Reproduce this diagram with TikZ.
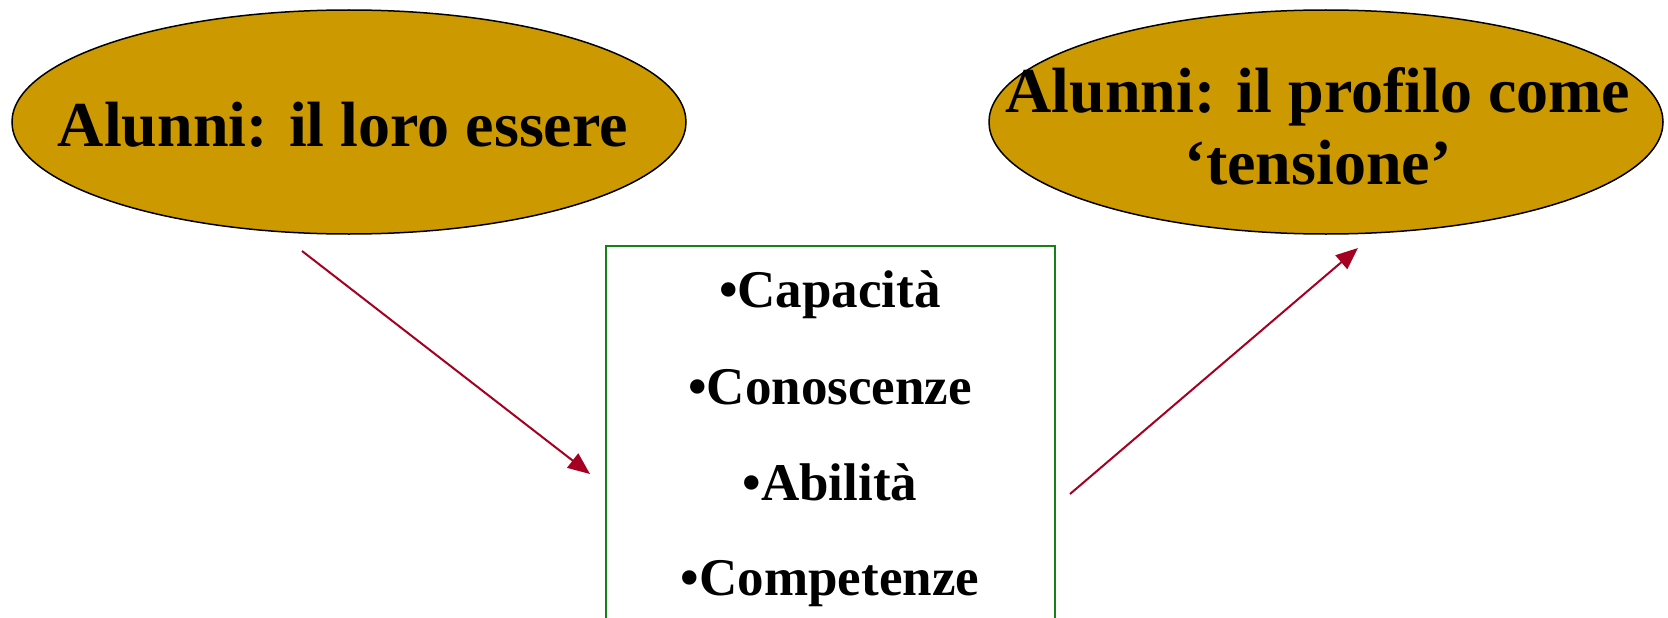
\documentclass[tikz,border=0pt]{standalone}
\usepackage{fontspec}
\setmainfont{Liberation Serif}
\usetikzlibrary{shapes.geometric,arrows.meta}
\definecolor{gold}{RGB}{204,153,0}
\definecolor{arrowred}{RGB}{165,0,33}
\definecolor{boxgreen}{RGB}{20,130,20}
\tikzset{
  bubble/.style={ellipse,draw=black,line width=1.5pt,fill=gold,minimum width=674pt,minimum height=224pt,inner sep=0pt},
  bigtext/.style={anchor=base,inner sep=0pt,font=\fontsize{64}{72}\selectfont\bfseries},
  itemtext/.style={anchor=base,inner sep=0pt,font=\fontsize{53}{60}\selectfont\bfseries},
  itembox/.style={draw=boxgreen,line width=2pt,minimum width=449pt,minimum height=420pt,anchor=north,inner sep=0pt},
  link/.style={draw=arrowred,line width=2pt,-{Triangle[length=22pt,width=18pt]}}
}
\begin{document}
\begin{tikzpicture}[x=1pt,y=-1pt]
\useasboundingbox (0,0) rectangle (1668,618);
\clip (0,0) rectangle (1668,618);
\node[bubble] (left) at (349,122) {};
\node[bubble] (right) at (1326,122) {};
\node[bigtext] (lefttext) at (343,146) {Alunni: il loro essere};
\node[bigtext] (righttext1) at (1318,112) {Alunni: il profilo come};
\node[bigtext] (righttext2) at (1318,184) {‘tensione’};
\node[itembox] (box) at (830.5,245) {};
\node[itemtext] (i1) at (830,307) {•Capacità};
\node[itemtext] (i2) at (830,404) {•Conoscenze};
\node[itemtext] (i3) at (830,500) {•Abilità};
\node[itemtext] (i4) at (830,595) {•Competenze};
\coordinate (a1s) at (302,251);
\coordinate (a1e) at (590,474);
\coordinate (a2s) at (1070,494);
\coordinate (a2e) at (1358,248);
\draw[link] (a1s) -- (a1e);
\draw[link] (a2s) -- (a2e);
\end{tikzpicture}
\end{document}
